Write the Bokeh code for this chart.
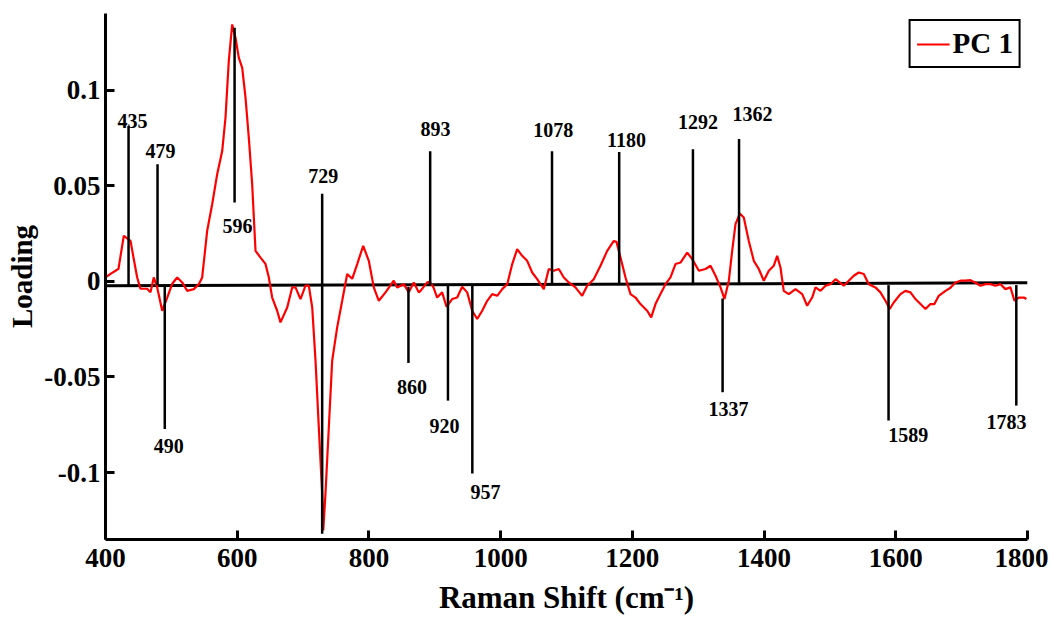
from bokeh.plotting import figure
from bokeh.models import FixedTicker, Legend, LegendItem, ColumnDataSource
from bokeh.core.properties import value
from bokeh.embed import file_html
from bokeh.resources import INLINE

# ---- data ----
raman_shift = [400.0, 407.6, 415.2, 419.7, 427.8, 438.0, 442.5, 448.1, 453.1, 463.3, 468.3, 473.3, 478.5,
               486.1, 493.7, 501.3, 508.9, 516.5, 524.1, 534.1, 541.7, 546.8, 554.4, 562.0, 569.6, 577.2,
               582.2, 587.2, 592.4, 597.4, 602.4, 607.6, 612.6, 617.6, 622.7, 627.8, 635.4, 642.9, 648.0,
               653.1, 660.7, 665.7, 675.9, 683.5, 688.5, 696.1, 703.7, 708.7, 713.9, 718.9, 723.9, 729.0,
               730.6, 734.0, 739.1, 744.2, 751.8, 759.4, 767.0, 774.6, 782.2, 791.3, 799.8, 807.4, 815.0,
               825.2, 837.7, 842.9, 852.9, 860.5, 868.1, 875.7, 878.3, 888.5, 892.4, 898.0, 903.6, 911.2,
               917.8, 926.4, 934.0, 941.6, 949.2, 956.8, 964.4, 972.0, 979.6, 987.2, 994.8, 1002.4, 1010.0,
               1017.6, 1025.1, 1032.7, 1040.3, 1047.9, 1055.5, 1065.5, 1073.1, 1080.7, 1088.3, 1095.9,
               1103.5, 1113.6, 1123.8, 1131.4, 1141.4, 1151.6, 1161.8, 1171.8, 1175.9, 1182.0, 1189.6,
               1197.2, 1204.8, 1212.3, 1222.5, 1228.6, 1235.1, 1242.7, 1250.3, 1257.9, 1265.5, 1273.1,
               1283.3, 1290.9, 1301.0, 1311.1, 1318.7, 1326.3, 1333.9, 1339.9, 1346.5, 1351.6, 1356.6,
               1363.1, 1369.2, 1376.8, 1384.4, 1392.0, 1399.6, 1407.2, 1414.7, 1419.9, 1424.9, 1429.9,
               1437.5, 1447.7, 1457.9, 1465.4, 1473.0, 1478.1, 1485.7, 1493.3, 1500.9, 1508.4, 1521.0,
               1528.6, 1536.2, 1543.8, 1551.4, 1559.0, 1569.1, 1576.7, 1584.3, 1590.8, 1596.9, 1607.1,
               1614.7, 1622.3, 1629.9, 1637.5, 1645.1, 1652.6, 1658.7, 1665.2, 1675.5, 1683.0, 1690.6,
               1698.2, 1705.8, 1713.4, 1721.0, 1728.6, 1736.2, 1743.8, 1751.4, 1759.0, 1766.5, 1774.1,
               1780.2, 1786.8, 1794.4, 1798.4]
loading = [0.0020, 0.0039, 0.0055, 0.0065, 0.0238, 0.0211, 0.0124, 0.0020, -0.0039, -0.0039, -0.0058,
           0.0020, -0.0032, -0.0154, -0.0085, -0.0013, 0.0020, -0.0006, -0.0050, -0.0041, -0.0015, 0.0020,
           0.0264, 0.0403, 0.0560, 0.0681, 0.0855, 0.1151, 0.1343, 0.1273, 0.1169, 0.1116, 0.0960, 0.0751,
           0.0508, 0.0159, 0.0124, 0.0091, 0.0020, -0.0085, -0.0154, -0.0215, -0.0137, -0.0032, -0.0032,
           -0.0093, -0.0023, -0.0023, -0.0137, -0.0415, -0.0763, -0.1111, -0.1303, -0.1111, -0.0763,
           -0.0415, -0.0241, -0.0102, 0.0038, 0.0013, 0.0090, 0.0185, 0.0107, -0.0032, -0.0102, -0.0058,
           0.0003, -0.0032, -0.0015, -0.0058, -0.0006, -0.0058, -0.0050, -0.0006, -0.0003, -0.0032,
           -0.0085, -0.0058, -0.0133, -0.0093, -0.0085, -0.0029, -0.0058, -0.0154, -0.0197, -0.0154,
           -0.0102, -0.0067, -0.0076, -0.0041, -0.0015, 0.0090, 0.0168, 0.0133, 0.0107, 0.0046, 0.0011,
           -0.0041, 0.0064, 0.0055, 0.0064, 0.0020, -0.0006, -0.0032, -0.0076, -0.0023, 0.0011, 0.0081,
           0.0159, 0.0211, 0.0206, 0.0124, 0.0020, -0.0067, -0.0085, -0.0119, -0.0154, -0.0189, -0.0119,
           -0.0067, -0.0015, 0.0020, 0.0090, 0.0098, 0.0150, 0.0116, 0.0055, 0.0064, 0.0081, 0.0029,
           -0.0032, -0.0093, 0.0003, 0.0159, 0.0299, 0.0354, 0.0333, 0.0211, 0.0107, 0.0064, 0.0003,
           0.0055, 0.0081, 0.0133, 0.0072, -0.0050, -0.0067, -0.0041, -0.0067, -0.0128, -0.0085, -0.0032,
           -0.0050, -0.0023, -0.0015, 0.0011, -0.0023, 0.0003, 0.0029, 0.0046, 0.0038, -0.0015, -0.0032,
           -0.0058, -0.0102, -0.0145, -0.0111, -0.0067, -0.0050, -0.0058, -0.0093, -0.0119, -0.0145,
           -0.0119, -0.0119, -0.0076, -0.0050, -0.0034, -0.0006, 0.0003, 0.0003, 0.0006, -0.0008, -0.0023,
           -0.0015, -0.0015, -0.0023, -0.0015, -0.0041, -0.0032, -0.0102, -0.0085, -0.0085, -0.0093]

baseline_x = [400, 1800]
baseline_y = [-0.0023, -0.0008]

ann_text = ["435", "479", "596", "729", "893", "1078", "1180", "1292", "1362",
            "490", "860", "920", "957", "1337", "1589", "1783"]
ann_x = [435, 479, 596, 729, 893, 1078, 1180, 1292, 1362, 490, 860, 920, 957, 1337, 1589, 1783]
ann_y0 = [-0.002, -0.002, 0.1325, -0.132, -0.002, -0.002, -0.002, -0.002, -0.002,
          -0.002, -0.003, -0.002, -0.002, -0.009, -0.002, -0.002]
ann_y1 = [0.0812, 0.0612, 0.0412, 0.0457, 0.068, 0.068, 0.0676, 0.069, 0.0744,
          -0.0772, -0.0427, -0.0624, -0.1005, -0.058, -0.0728, -0.065]
label_x = [441.0, 483.5, 600.4, 730.6, 901.1, 1079.8, 1191.1, 1299.6, 1382.4,
           496.1, 865.4, 914.7, 977.0, 1346.0, 1618.8, 1768.1]
label_y = [0.0838, 0.0681, 0.0290, 0.0551, 0.0795, 0.0791, 0.0739, 0.0833, 0.0877,
           -0.0859, -0.0551, -0.0755, -0.1104, -0.0666, -0.0802, -0.0736]

x_ticks = [400, 600, 800, 1000, 1200, 1400, 1600, 1800]
y_ticks = [-0.1, -0.05, 0, 0.05, 0.1]
y_tick_labels = ["-0.1", "-0.05", "0", "0.05", "0.1"]
x_title = "Raman Shift (cm\u207b\u00b9)"
y_title = "Loading"
series_name = "PC 1"

FONT = "Liberation Serif"

p = figure(width=1048, height=624, x_range=(400, 1800), y_range=(-0.135, 0.14),
           output_backend="svg", toolbar_location=None,
           min_border_left=105, min_border_right=21, min_border_top=13, min_border_bottom=85)
p.outline_line_color = None
p.xgrid.grid_line_color = None
p.ygrid.grid_line_color = None
p.background_fill_color = "white"
p.border_fill_color = "white"

for ax in (p.xaxis[0], p.yaxis[0]):
    ax.axis_line_width = 3
    ax.axis_line_color = "black"
    ax.major_tick_line_width = 3
    ax.major_tick_line_color = "black"
    ax.major_tick_in = 9
    ax.major_tick_out = 0
    ax.minor_tick_line_color = None
    ax.major_label_text_font = FONT
    ax.major_label_text_font_style = "bold"
    ax.major_label_text_color = "black"
    ax.axis_label_text_font = FONT
    ax.axis_label_text_font_style = "bold"
    ax.axis_label_text_color = "black"

p.xaxis.ticker = FixedTicker(ticks=x_ticks)
p.yaxis.ticker = FixedTicker(ticks=y_ticks)
p.yaxis.major_label_overrides = {t: s for t, s in zip(y_ticks, y_tick_labels)}
p.xaxis.major_label_text_font_size = "27px"
p.yaxis.major_label_text_font_size = "27px"
p.xaxis.major_label_standoff = 9
p.yaxis.major_label_standoff = 5
p.xaxis.axis_label = x_title
p.yaxis.axis_label = y_title
p.xaxis.axis_label_text_font_size = "31px"
p.yaxis.axis_label_text_font_size = "29px"
p.xaxis.axis_label_standoff = 10
p.yaxis.axis_label_standoff = 3

# baseline
p.line(baseline_x, baseline_y, line_color="black", line_width=3)

# spectrum
r = p.line(raman_shift, loading, line_color="#ff0000", line_width=2.2)

# annotation sticks and labels
p.segment(x0=ann_x, y0=ann_y0, x1=ann_x, y1=ann_y1, line_color="black", line_width=2.5)
src = ColumnDataSource(dict(x=label_x, y=label_y, t=ann_text))
p.text(x="x", y="y", text="t", source=src, text_align="center", text_baseline="middle",
       text_font=value(FONT), text_font_style="bold", text_font_size="20px", text_color="black")

legend = Legend(items=[LegendItem(label=series_name, renderers=[r])], location="top_right")
legend.label_text_font = FONT
legend.label_text_font_style = "bold"
legend.label_text_font_size = "29px"
legend.label_text_color = "black"
legend.border_line_color = "black"
legend.border_line_alpha = 1
legend.border_line_width = 2
legend.glyph_width = 33
legend.glyph_height = 32
legend.label_standoff = 3
legend.padding = 6
legend.margin = 6
legend.background_fill_alpha = 1
p.add_layout(legend)

open("out.html", "w").write(file_html(p, INLINE))
